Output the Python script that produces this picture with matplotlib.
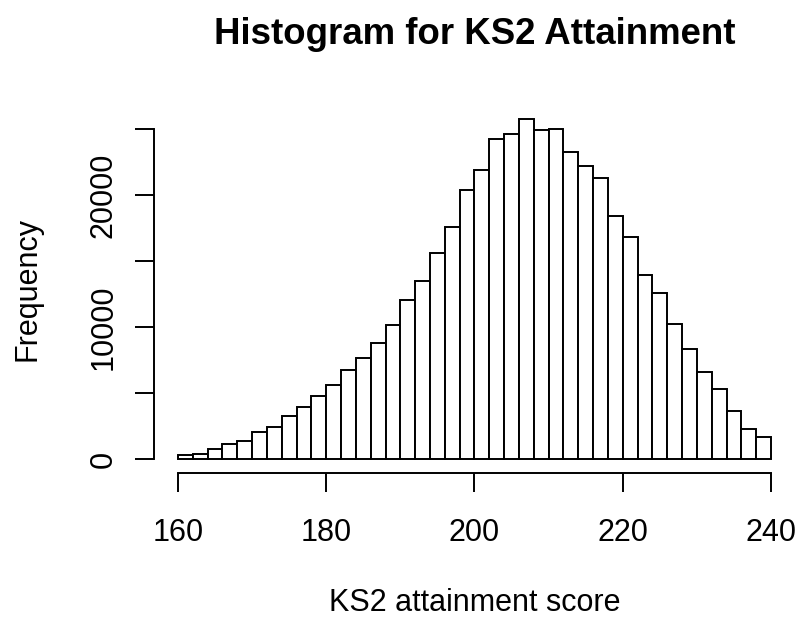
import numpy as np
import matplotlib
matplotlib.use("Agg")
import matplotlib.pyplot as plt

plt.rcParams['font.family'] = ['Liberation Sans', 'DejaVu Sans']

# histogram of KS2 attainment scores, bins of width 2 from 160 to 240
bin_edges = np.arange(160, 242, 2)
counts = [330, 400, 800, 1160, 1390, 2070, 2450, 3260, 3960, 4800,
          5630, 6770, 7650, 8840, 10200, 12040, 13500, 15630, 17580, 20420,
          21920, 24270, 24620, 25760, 24920, 25000, 23260, 22220, 21330, 18430,
          16820, 13990, 12580, 10280, 8380, 6610, 5300, 3680, 2270, 1710]
x_ticks = [160, 180, 200, 220, 240]
y_ticks = [0, 5000, 10000, 15000, 20000, 25000]
y_labels = ['0', '', '10000', '', '20000', '']

title = 'Histogram for KS2 Attainment'
xlabel = 'KS2 attainment score'
ylabel = 'Frequency'

W, H = 803, 617
fig = plt.figure(figsize=(W / 100, H / 100), dpi=100)
ax = fig.add_axes([154.3 / W, 1 - 472.9 / H, 640.4 / W, 367.2 / H])

lw = 1.4
ax.bar(bin_edges[:-1], counts, width=2, align='edge',
       facecolor='white', edgecolor='black', linewidth=lw)

# R style: 4% padding on both axes
xr = bin_edges[-1] - bin_edges[0]
ax.set_xlim(bin_edges[0] - 0.04 * xr, bin_edges[-1] + 0.04 * xr)
ymax = max(counts)
ax.set_ylim(-0.04 * ymax, 1.04 * ymax)

for s in ['top', 'right']:
    ax.spines[s].set_visible(False)
ax.spines['left'].set_bounds(0, 25000)
ax.spines['bottom'].set_bounds(160, 240)
ax.spines['left'].set_linewidth(lw)
ax.spines['bottom'].set_linewidth(lw)

ax.set_xticks(x_ticks)
ax.set_xticklabels([str(v) for v in x_ticks])
ax.set_yticks(y_ticks)
ax.set_yticklabels(y_labels, rotation=90, va='center')
ax.tick_params(axis='both', length=13.7, width=lw, labelsize=22)
ax.tick_params(axis='x', pad=18.5)
ax.tick_params(axis='y', pad=12)

fig.text(474.5 / W, 1 - 35 / H, title, ha='center', va='center',
         fontsize=26.4, fontweight='bold')
fig.text(474.5 / W, 1 - 603 / H, xlabel, ha='center', va='center', fontsize=22)
fig.text(28 / W, 1 - 289 / H, ylabel, ha='center', va='center',
         rotation=90, fontsize=22)

fig.savefig('out.png', dpi=100)
